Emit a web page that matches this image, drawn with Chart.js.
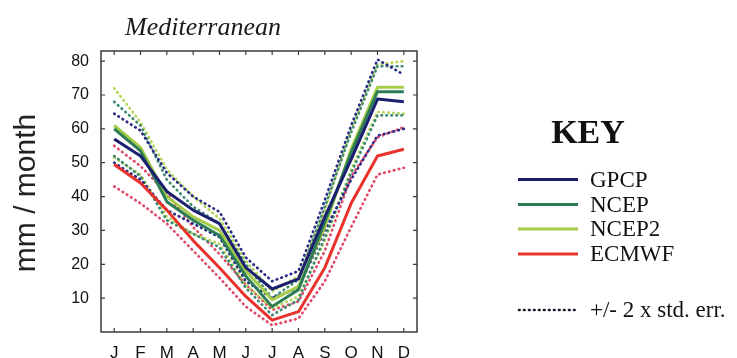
<!DOCTYPE html>
<html>
<head>
<meta charset="utf-8">
<script src="https://cdn.jsdelivr.net/npm/chart.js@4.4.1/dist/chart.umd.min.js"></script>
<style>
html,body{margin:0;padding:0;background:#fff;}
#wrap{width:737px;height:358px;position:relative;}
</style>
</head>
<body>
<div id="wrap"><canvas id="c" width="737" height="358"></canvas></div>
<script>
const months = ['J','F','M','A','M','J','J','A','S','O','N','D'];
const yTicks = [10,20,30,40,50,60,70,80];
const seriesNames = ['GPCP','NCEP','NCEP2','ECMWF'];

const gpcp      = [57, 52, 41.5, 36, 32, 19, 12.7, 15.7, 34, 51, 68.8, 68];
const gpcpHi    = [64.5, 59.5, 47, 40, 35.5, 22, 15, 18, 39, 61, 80.5, 76];
const gpcpLo    = [50, 45, 36, 32, 28, 15, 10, 13, 30, 45, 58, 60];

const ncep      = [60, 53.5, 38.5, 33, 28.5, 16.5, 7.5, 12.5, 32.5, 53, 71, 71];
const ncepHi    = [68, 61, 45, 37, 32, 20, 10, 15.5, 37, 59, 78.5, 78.5];
const ncepLo    = [52, 46, 33, 29, 25, 13, 5, 9.5, 28, 47, 64, 64];

const ncep2     = [61, 54.5, 40, 34, 30, 18, 9.5, 13.5, 31, 54, 72.3, 72.3];
const ncep2Hi   = [72, 62, 48, 40, 33.5, 21, 12, 16.5, 36, 60, 79, 80];
const ncep2Lo   = [51.5, 46.5, 34, 29, 26, 14, 7, 10.5, 27, 48, 65, 64.5];

const ecmwf     = [49.5, 44, 36, 27, 19, 10.5, 3.5, 6, 19, 38, 52, 54];
const ecmwfHi   = [55, 49, 41, 31, 23, 14, 6.5, 9, 24, 46, 57.5, 60.5];
const ecmwfLo   = [43, 38, 32, 24, 16, 7.5, 2, 4, 15, 31, 46.5, 48.5];

const solidColors  = ['#1c1f6e', '#2c7c56', '#a4cc48', '#e8322b'];
const dottedColors = ['#2a2d86', '#3f8a70', '#b5d65c', '#e04a6a'];

const means = [gpcp, ncep, ncep2, ecmwf];
const highs = [gpcpHi, ncepHi, ncep2Hi, ecmwfHi];
const lows  = [gpcpLo, ncepLo, ncep2Lo, ecmwfLo];

const datasets = [];
for (let i = 0; i < 4; i++) {
  [highs[i], lows[i]].forEach(arr => {
    datasets.push({
      data: arr, borderColor: dottedColors[i], borderWidth: 2.7,
      borderDash: [0.6, 4.4], borderCapStyle: 'round', pointRadius: 0,
      tension: 0, fill: false, order: 2
    });
  });
}
for (let i = 0; i < 4; i++) {
  datasets.push({
    label: seriesNames[i], data: means[i], borderColor: solidColors[i], borderWidth: 3,
    pointRadius: 0, tension: 0, fill: false, order: 1, borderJoinStyle: 'round'
  });
}

const deco = {
  id: 'deco',
  beforeDraw(chart) {
    const ctx = chart.ctx;
    ctx.save();
    ctx.fillStyle = '#fff';
    ctx.fillRect(0, 0, chart.width, chart.height);
    ctx.restore();
  },
  afterDraw(chart) {
    const ctx = chart.ctx;
    const a = chart.chartArea;
    const xs = chart.scales.x, ys = chart.scales.y;
    ctx.save();
    // frame
    ctx.strokeStyle = '#3a3a3a';
    ctx.lineWidth = 1.5;
    ctx.strokeRect(a.left, a.top, a.right - a.left, a.bottom - a.top);
    // inward ticks
    ctx.lineWidth = 1.2;
    ctx.beginPath();
    months.forEach((m, i) => {
      const x = xs.getPixelForValue(i);
      ctx.moveTo(x, a.bottom); ctx.lineTo(x, a.bottom - 4);
      ctx.moveTo(x, a.top); ctx.lineTo(x, a.top + 4);
    });
    yTicks.forEach(v => {
      const y = ys.getPixelForValue(v);
      ctx.moveTo(a.left, y); ctx.lineTo(a.left + 4, y);
      ctx.moveTo(a.right, y); ctx.lineTo(a.right - 4, y);
    });
    ctx.stroke();

    // title
    ctx.fillStyle = '#1a1a1a';
    ctx.font = 'italic 26px "Liberation Serif", "DejaVu Serif", serif';
    ctx.textAlign = 'center';
    ctx.textBaseline = 'alphabetic';
    ctx.fillText('Mediterranean', 203, 35);

    // y title
    ctx.save();
    ctx.translate(35, 193);
    ctx.rotate(-Math.PI / 2);
    ctx.font = '30px "Liberation Sans", Arial, sans-serif';
    ctx.textAlign = 'center';
    ctx.textBaseline = 'alphabetic';
    ctx.fillStyle = '#222';
    ctx.fillText('mm / month', 0, 0);
    ctx.restore();

    // legend
    ctx.fillStyle = '#111';
    ctx.font = 'bold 34px "Liberation Serif", "DejaVu Serif", serif';
    ctx.textAlign = 'center';
    ctx.fillText('KEY', 588, 143);
    const ly = [179.5, 204.5, 229, 254];
    ctx.font = '23px "Liberation Serif", "DejaVu Serif", serif';
    ctx.textAlign = 'left';
    ctx.textBaseline = 'middle';
    for (let i = 0; i < 4; i++) {
      ctx.strokeStyle = solidColors[i];
      ctx.lineWidth = 3;
      ctx.setLineDash([]);
      ctx.beginPath();
      ctx.moveTo(518, ly[i]); ctx.lineTo(578, ly[i]);
      ctx.stroke();
      ctx.fillStyle = '#111';
      ctx.fillText(seriesNames[i], 590, ly[i] + 1);
    }
    ctx.strokeStyle = '#1a1a2a';
    ctx.lineWidth = 2.7;
    ctx.lineCap = 'round';
    ctx.setLineDash([0.6, 4.4]);
    ctx.beginPath();
    ctx.moveTo(519, 310); ctx.lineTo(578, 310);
    ctx.stroke();
    ctx.setLineDash([]);
    ctx.fillText('+/- 2 x std. err.', 590, 311);
    ctx.restore();
  }
};

new Chart(document.getElementById('c'), {
  type: 'line',
  data: { labels: months, datasets: datasets },
  options: {
    responsive: false,
    animation: false,
    devicePixelRatio: 1,
    layout: { padding: { top: 51, right: 320, bottom: 0, left: 0 } },
    plugins: { legend: { display: false }, tooltip: { enabled: false }, title: { display: false } },
    scales: {
      x: {
        type: 'category',
        offset: true,
        grid: { display: false, drawTicks: false },
        border: { display: false },
        ticks: { padding: 11, color: '#111', font: { family: '"Liberation Sans", Arial, sans-serif', size: 17 }, maxRotation: 0, autoSkip: false },
        afterFit(s) { s.height = 26; }
      },
      y: {
        min: 0, max: 83,
        grid: { display: false, drawTicks: false },
        border: { display: false },
        ticks: {
          stepSize: 10, includeBounds: false, padding: 12, color: '#111',
          font: { family: '"Liberation Sans", Arial, sans-serif', size: 16 },
          callback: v => (v === 0 ? '' : v)
        },
        afterFit(s) { s.width = 101; }
      }
    }
  },
  plugins: [deco]
});
</script>
</body>
</html>
